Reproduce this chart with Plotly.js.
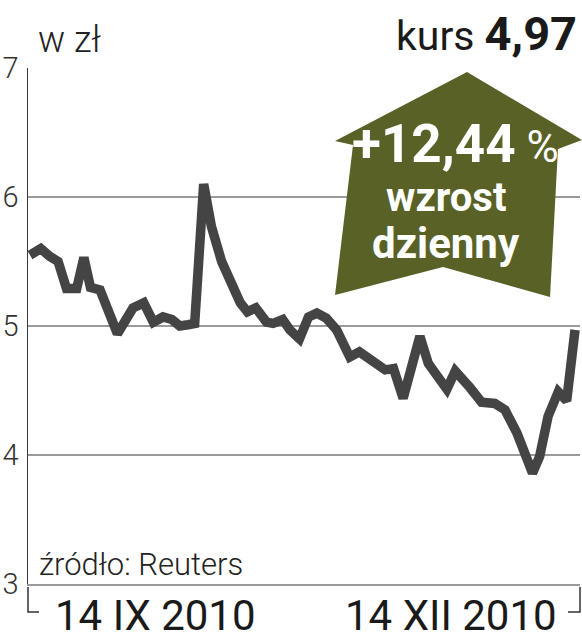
<!DOCTYPE html>
<html>
<head>
<meta charset="utf-8">
<script src="https://cdn.plot.ly/plotly-3.0.1.min.js"></script>
<style>html,body{margin:0;padding:0;background:#fff;}#chart{width:582px;height:640px;}</style>
</head>
<body>
<div id="chart"></div>
<script>
// Days since 14 IX 2010
const days = [0,1.8,3.3,4.7,6.1,7.8,9.0,10.1,11.7,14.6,17.2,19.0,20.6,22.2,23.7,25.0,26.4,27.5,29.0,30.3,32.0,33.7,35.1,36.3,37.7,39.5,40.6,42.2,43.4,45.0,46.5,47.9,49.5,51.2,53.4,55.0,56.8,59.3,60.7,62.3,65.1,66.5,69.6,71.0,73.5,75.4,77.6,79.3,81.3,83.9,85.1,86.5,88.2,89.6,91.0];
// Kurs (zł)
const kurs = [5.55,5.60,5.54,5.50,5.29,5.29,5.53,5.30,5.28,4.94,5.14,5.18,5.03,5.07,5.05,5.00,5.01,5.02,6.10,5.77,5.50,5.33,5.18,5.11,5.14,5.03,5.02,5.05,4.97,4.90,5.07,5.10,5.06,4.97,4.76,4.80,4.75,4.66,4.67,4.44,4.92,4.71,4.51,4.65,4.52,4.41,4.40,4.35,4.17,3.86,3.99,4.30,4.49,4.42,4.97];
const yTicks = [3,4,5,6,7];
const xLabels = ['14 IX 2010','14 XII 2010'];
const unitLabel = 'w zł';
const sourceLabel = 'źródło: Reuters';
const lastValue = '4,97';
const changeLabel = '+12,44';
const changeText = ['wzrost','dzienny'];

const W = 582, H = 640;
const M = {l:28, r:2, t:68, b:56};
const PW = W - M.l - M.r, PH = H - M.t - M.b;
const fx = px => (px - M.l) / PW;
const fy = py => (H - M.b - py) / PH;

const light = 'Roboto';
const arrowPts = [[467,72],[582,140],[558,149],[550,297],[443,267],[335,295],[353,145],[335,141]];
const arrowPath = 'M' + arrowPts.map(p => fx(p[0]).toFixed(4) + ',' + fy(p[1]).toFixed(4)).join(' L') + ' Z';

const bracketL = 'M' + fx(28) + ',' + fy(587) + ' L' + fx(28) + ',' + fy(612) + ' L' + fx(39) + ',' + fy(612);
const bracketR = 'M' + fx(568) + ',' + fy(612) + ' L' + fx(580) + ',' + fy(612) + ' L' + fx(580) + ',' + fy(587);

const trace = {
  x: days, y: kurs, type: 'scatter', mode: 'lines',
  line: {color: '#444444', width: 9.5, shape: 'linear'},
  hoverinfo: 'skip', cliponaxis: false
};

const layout = {
  width: W, height: H,
  margin: M,
  paper_bgcolor: '#ffffff', plot_bgcolor: '#ffffff',
  showlegend: false,
  xaxis: {
    range: [-0.33, 91.83], showgrid: false, zeroline: false,
    showline: true, linecolor: '#9a9a9a', linewidth: 1.5,
    showticklabels: false, ticks: '', fixedrange: true
  },
  yaxis: {
    range: [3, 7], tickvals: yTicks, ticktext: yTicks.map(String),
    showgrid: true, gridcolor: '#9a9a9a', gridwidth: 1.5,
    zeroline: false, showline: true, linecolor: '#3a3a3a', linewidth: 1.5,
    ticks: '', ticklabelstandoff: 2,
    tickfont: {family: light, size: 29, color: '#333333', weight: 300},
    fixedrange: true
  },
  shapes: [
    {type: 'path', xref: 'paper', yref: 'paper', path: arrowPath,
     fillcolor: '#5a6127', line: {width: 0}, layer: 'above'},
    {type: 'path', xref: 'paper', yref: 'paper', path: bracketL,
     line: {color: '#333333', width: 1.5}},
    {type: 'path', xref: 'paper', yref: 'paper', path: bracketR,
     line: {color: '#333333', width: 1.5}}
  ],
  annotations: [
    {xref: 'paper', yref: 'paper', x: fx(36), y: fy(40), xanchor: 'left', yanchor: 'middle',
     text: unitLabel, showarrow: false,
     font: {family: light, size: 36, color: '#222222', weight: 300}},
    {xref: 'paper', yref: 'paper', x: fx(579), y: fy(33), xanchor: 'right', yanchor: 'middle',
     text: 'kurs <b><span style="font-size:47px">' + lastValue + '</span></b>', showarrow: false,
     font: {family: 'Roboto', size: 41, color: '#1a1a1a'}},
    {xref: 'paper', yref: 'paper', x: fx(350), y: fy(144), xanchor: 'left', yanchor: 'middle',
     text: '<b>' + changeLabel + '</b><span style="font-size:44px"> %</span>', showarrow: false,
     font: {family: 'Roboto', size: 53, color: '#ffffff'}},
    {xref: 'paper', yref: 'paper', x: fx(446), y: fy(197), xanchor: 'center', yanchor: 'middle',
     text: '<b>' + changeText[0] + '</b>', showarrow: false,
     font: {family: 'Roboto', size: 40, color: '#ffffff'}},
    {xref: 'paper', yref: 'paper', x: fx(446), y: fy(243), xanchor: 'center', yanchor: 'middle',
     text: '<b>' + changeText[1] + '</b>', showarrow: false,
     font: {family: 'Roboto', size: 42, color: '#ffffff'}},
    {xref: 'paper', yref: 'paper', x: fx(37), y: fy(564), xanchor: 'left', yanchor: 'middle',
     text: sourceLabel, showarrow: false,
     font: {family: light, size: 31, color: '#222222', weight: 300}},
    {xref: 'paper', yref: 'paper', x: fx(53), y: fy(615), xanchor: 'left', yanchor: 'middle',
     text: xLabels[0], showarrow: false,
     font: {family: 'Roboto', size: 42, color: '#1a1a1a', weight: 400}},
    {xref: 'paper', yref: 'paper', x: fx(559), y: fy(615), xanchor: 'right', yanchor: 'middle',
     text: xLabels[1], showarrow: false,
     font: {family: 'Roboto', size: 42, color: '#1a1a1a', weight: 400}}
  ]
};

Plotly.newPlot('chart', [trace], layout, {displayModeBar: false, staticPlot: true});
</script>
</body>
</html>
